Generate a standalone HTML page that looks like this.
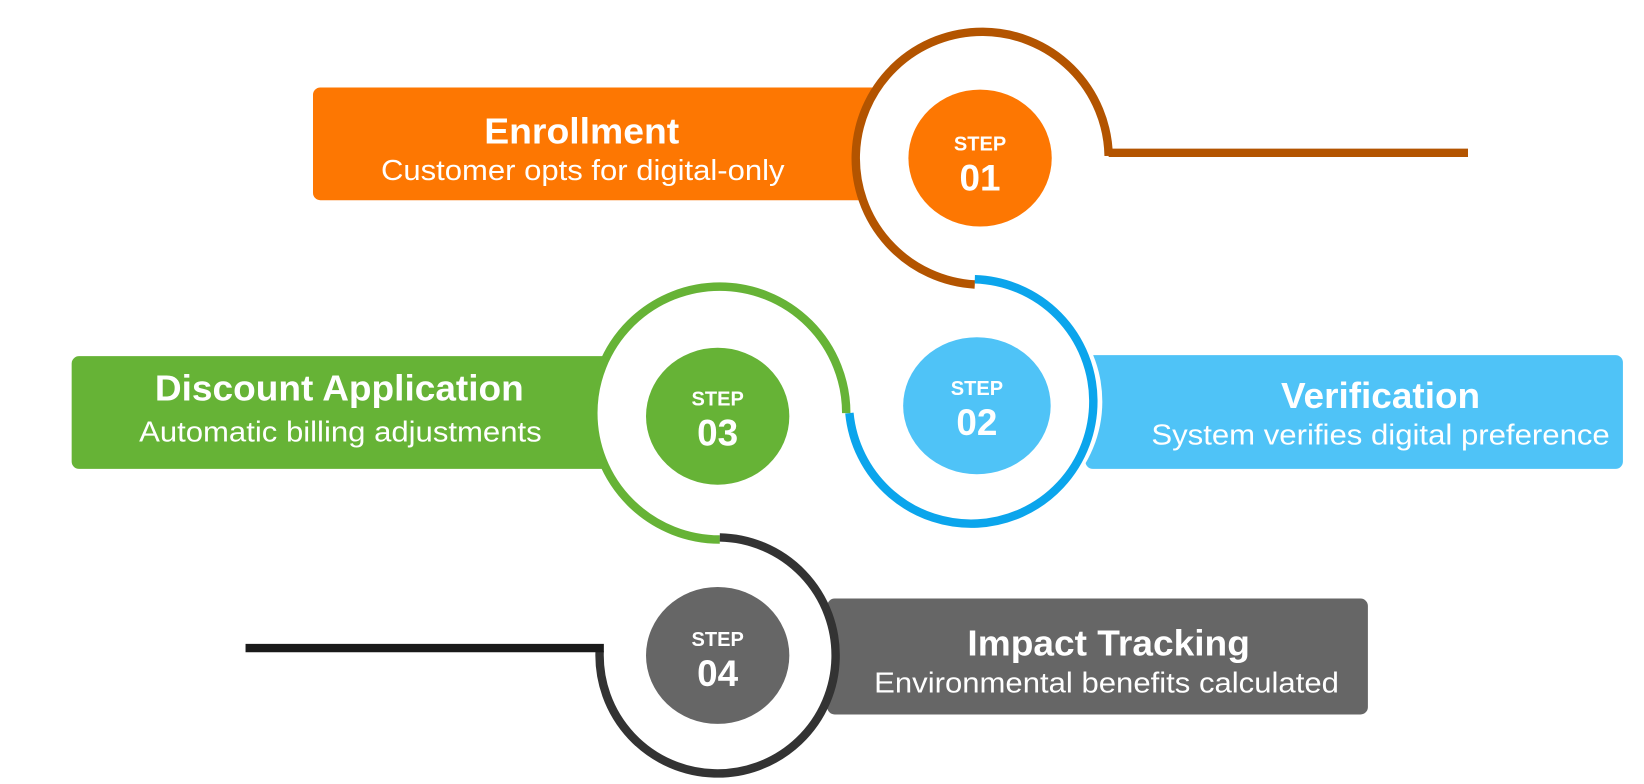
<!DOCTYPE html>
<html><head><meta charset="utf-8"><style>
html,body{margin:0;padding:0;background:#fff;}
svg{display:block;}
text{font-family:"Liberation Sans",sans-serif;fill:#fff;}
</style></head><body>
<svg width="1644" height="784" viewBox="0 0 1560 744" preserveAspectRatio="none" xmlns="http://www.w3.org/2000/svg">
<rect x="297" y="83" width="540" height="107" rx="7" fill="#FD7702"/>
<rect x="1030" y="337" width="510" height="108" rx="7" fill="#4FC3F7"/>
<rect x="68" y="338" width="530" height="107" rx="7" fill="#66B336"/>
<rect x="785" y="568" width="513" height="110" rx="7" fill="#666666"/>
<circle cx="932" cy="150" r="120" fill="#fff"/>
<circle cx="930" cy="381" r="116" fill="#fff"/>
<circle cx="683" cy="392" r="120" fill="#fff"/>
<circle cx="683" cy="620" r="110" fill="#fff"/>
<g fill="none" stroke-width="8">
<path d="M1052 148 A120 120 0 1 0 925 270" stroke="#B35400"/>
<path d="M1052 145 L1393 145" stroke="#B35400"/>
<path d="M925 265 A116 116 0 1 1 806 392" stroke="#0BA5EC"/>
<path d="M803 392 A120 120 0 1 0 683 512" stroke="#66B336"/>
<path d="M683 510 A112 112 0 1 1 569 618" stroke="#333"/>
<path d="M573 615 L233 615" stroke="#1a1a1a"/>
</g>
<ellipse cx="930" cy="150" rx="68" ry="65" fill="#FD7702"/>
<ellipse cx="927" cy="385" rx="70" ry="65" fill="#4FC3F7"/>
<ellipse cx="681" cy="395" rx="68" ry="65" fill="#66B336"/>
<ellipse cx="681" cy="622" rx="68" ry="65" fill="#666666"/>
<g font-weight="bold" text-anchor="middle">
<text x="930" y="143" font-size="19">STEP</text><text x="930" y="181" font-size="35">01</text>
<text x="927" y="375" font-size="19">STEP</text><text x="927" y="413" font-size="35">02</text>
<text x="681" y="385" font-size="19">STEP</text><text x="681" y="423" font-size="35">03</text>
<text x="681" y="613" font-size="19">STEP</text><text x="681" y="651" font-size="35">04</text>
</g>
<g text-anchor="middle" lengthAdjust="spacingAndGlyphs">
<text x="552" y="136" font-size="34" font-weight="bold" textLength="185" lengthAdjust="spacingAndGlyphs">Enrollment</text>
<text x="553" y="171" font-size="27" textLength="383" lengthAdjust="spacingAndGlyphs">Customer opts for digital-only</text>
<text x="1310" y="387" font-size="34" font-weight="bold" textLength="189" lengthAdjust="spacingAndGlyphs">Verification</text>
<text x="1310" y="422" font-size="27" textLength="435" lengthAdjust="spacingAndGlyphs">System verifies digital preference</text>
<text x="322" y="380" font-size="34" font-weight="bold" textLength="350" lengthAdjust="spacingAndGlyphs">Discount Application</text>
<text x="323" y="419" font-size="27" textLength="382" lengthAdjust="spacingAndGlyphs">Automatic billing adjustments</text>
<text x="1052" y="622" font-size="34" font-weight="bold" textLength="268" lengthAdjust="spacingAndGlyphs">Impact Tracking</text>
<text x="1050" y="657" font-size="27" textLength="441" lengthAdjust="spacingAndGlyphs">Environmental benefits calculated</text>
</g>
</svg>
</body></html>
